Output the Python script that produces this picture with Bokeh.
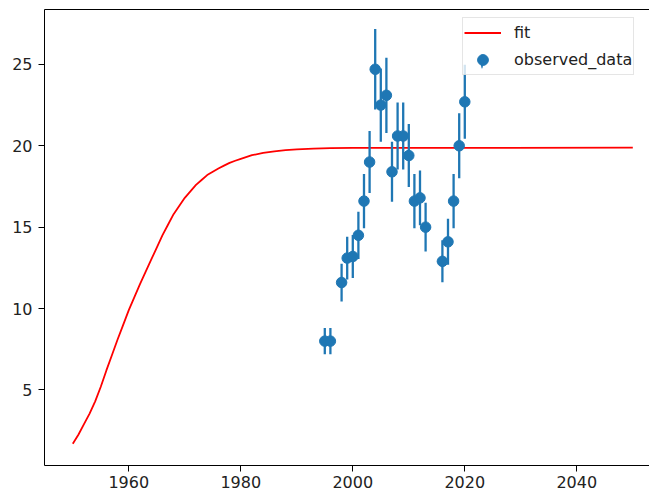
import numpy as np
from bokeh.plotting import figure
from bokeh.models import (Range1d, LinearAxis, FixedTicker, Legend, LegendItem,
                          ColumnDataSource)
from bokeh.embed import file_html
from bokeh.resources import INLINE

# ---- data ----
years = [1995, 1996, 1998, 1999, 2000, 2001, 2002, 2003, 2004, 2005, 2006, 2007,
         2008, 2009, 2010, 2011, 2012, 2013, 2016, 2017, 2018, 2019, 2020]
values = [8.0, 8.0, 11.6, 13.1, 13.2, 14.5, 16.6, 19.0, 24.7, 22.5, 23.1, 18.4,
          20.6, 20.6, 19.4, 16.6, 16.8, 15.0, 12.9, 14.1, 16.6, 20.0, 22.7]
errors = [0.8, 0.8, 1.16, 1.31, 1.32, 1.45, 1.66, 1.9, 2.47, 2.25, 2.31, 1.84,
          2.06, 2.06, 1.94, 1.66, 1.68, 1.5, 1.29, 1.41, 1.66, 2.0, 2.27]

fit_years = [1950, 1951, 1952, 1953, 1954, 1955, 1956, 1957, 1958, 1959, 1960,
             1961, 1962, 1963, 1964, 1965, 1966, 1967, 1968, 1969, 1970,
             1971, 1972, 1973, 1974, 1975, 1976, 1977, 1978, 1979, 1980,
             1982, 1984, 1986, 1988, 1990, 1993, 1996, 2000, 2050]
fit_values = [1.7, 2.25, 2.9, 3.55, 4.3, 5.2, 6.2, 7.15, 8.1, 9.0, 9.9,
              10.7, 11.5, 12.25, 13.0, 13.75, 14.5, 15.15, 15.8, 16.3, 16.8,
              17.2, 17.6, 17.9, 18.2, 18.4, 18.6, 18.78, 18.95, 19.08, 19.2,
              19.42, 19.56, 19.66, 19.73, 19.78, 19.82, 19.85, 19.87, 19.88]

x_ticks = [1960, 1980, 2000, 2020, 2040]
y_ticks = [5, 10, 15, 20, 25]

src = ColumnDataSource(dict(
    x=years, y=values,
    lo=[v - e for v, e in zip(values, errors)],
    hi=[v + e for v, e in zip(values, errors)],
))

FONT = "DejaVu Sans"
BLUE = "#1f77b4"

p = figure(frame_width=605, frame_height=456,
           min_border_left=44, min_border_top=9, min_border_right=0, min_border_bottom=0,
           x_range=Range1d(1944.95, 2052.98), y_range=Range1d(0.36, 28.37),
           output_backend="svg", toolbar_location=None,
           margin=(0, 0, -8, 0))
p.grid.visible = False
p.outline_line_color = None
p.background_fill_color = "white"
p.border_fill_color = "white"

for ax, ticks in ((p.xaxis[0], x_ticks), (p.yaxis[0], y_ticks)):
    ax.ticker = FixedTicker(ticks=ticks)
    ax.major_tick_out = 6
    ax.major_tick_in = 0
    ax.minor_tick_out = 0
    ax.minor_tick_in = 0
    ax.major_tick_line_color = "black"
    ax.axis_line_color = "black"
    ax.axis_line_width = 1
    ax.major_label_text_font = FONT
    ax.major_label_text_font_size = "16px"
    ax.major_label_text_color = "#222222"
p.xaxis[0].major_label_standoff = 4
p.yaxis[0].major_label_standoff = 6

top_axis = LinearAxis(ticker=FixedTicker(ticks=[]), major_tick_out=0, major_tick_in=0,
                      minor_tick_out=0, minor_tick_in=0, major_label_text_font_size="0px",
                      major_label_standoff=0, axis_line_color="black")
p.add_layout(top_axis, "above")

fit = p.line(fit_years, fit_values, line_color="red", line_width=1.8)
# thin tall ellipse hidden under each error bar; it supplies the vertical stroke of the legend glyph
bar_proxy = p.ellipse(x="x", y="y", width=2.3, height=14, width_units="screen",
                      height_units="screen", source=src, fill_color=BLUE, line_color=None)
seg = p.segment(x0="x", y0="lo", x1="x", y1="hi", source=src,
                line_color=BLUE, line_width=2.3)
pts = p.scatter("x", "y", source=src, marker="circle", size=10.5,
                fill_color=BLUE, line_color=BLUE)

# legend layout (screen px, relative to the frame's bottom-left corner)
LEG_X, LEG_Y = 418, 390
GLYPH_W, GLYPH_H, PAD = 37, 27, 1
legend = Legend(items=[LegendItem(label="fit", renderers=[fit]),
                       LegendItem(label="observed_data", renderers=[pts])],
                location=(LEG_X, LEG_Y),
                glyph_width=GLYPH_W, glyph_height=GLYPH_H, spacing=0, padding=PAD,
                label_standoff=13, label_text_font=FONT, label_text_font_size="16px",
                label_text_color="#222222",
                border_line_color="#cccccc", border_line_width=1,
                background_fill_color="white", background_fill_alpha=0.8, margin=0)
p.add_layout(legend)

# transparent overlay legend carrying only the vertical error-bar stroke
BAR_H = 18
bar_legend = Legend(items=[LegendItem(label=" ", renderers=[bar_proxy])],
                    location=(LEG_X + PAD, LEG_Y + PAD + (GLYPH_H - BAR_H) / 2),
                    glyph_width=GLYPH_W, glyph_height=BAR_H, label_height=BAR_H,
                    label_width=1, spacing=0, padding=0, margin=0, label_standoff=0,
                    label_text_font_size="1px",
                    border_line_color=None, background_fill_alpha=0.0,
                    inactive_fill_alpha=0.0)
p.add_layout(bar_legend)

open("out.html", "w").write(file_html(p, INLINE))
